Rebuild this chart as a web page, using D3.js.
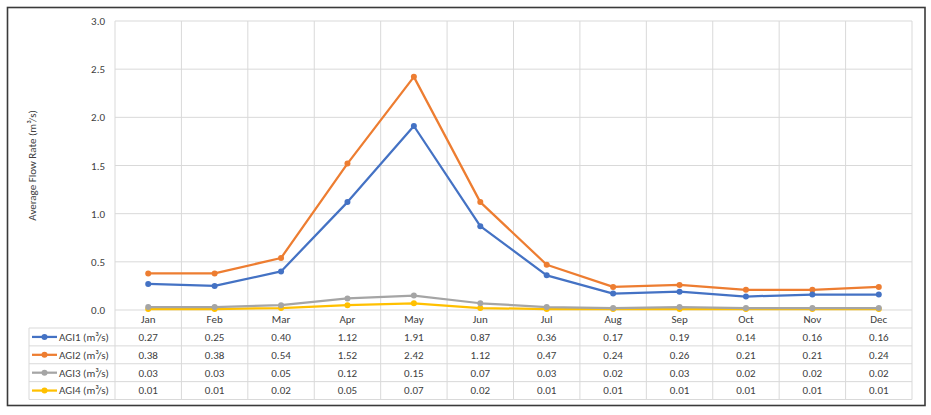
<!DOCTYPE html>
<html>
<head>
<meta charset="utf-8">
<script src="https://cdn.jsdelivr.net/npm/d3@7"></script>
<style>
	body { margin: 0; background: #fff; }
	svg text { font-family: Calibri, Carlito, Lato, sans-serif; fill: #404040; }
</style>
</head>
<body>
<main></main>
<script>
// DATA
const months = ["Jan", "Feb", "Mar", "Apr", "May", "Jun", "Jul", "Aug", "Sep", "Oct", "Nov", "Dec"];
const seriesNames = ["AGI1 (m³/s)", "AGI2 (m³/s)", "AGI3 (m³/s)", "AGI4 (m³/s)"];
const agi1 = [0.27, 0.25, 0.40, 1.12, 1.91, 0.87, 0.36, 0.17, 0.19, 0.14, 0.16, 0.16];
const agi2 = [0.38, 0.38, 0.54, 1.52, 2.42, 1.12, 0.47, 0.24, 0.26, 0.21, 0.21, 0.24];
const agi3 = [0.03, 0.03, 0.05, 0.12, 0.15, 0.07, 0.03, 0.02, 0.03, 0.02, 0.02, 0.02];
const agi4 = [0.01, 0.01, 0.02, 0.05, 0.07, 0.02, 0.01, 0.01, 0.01, 0.01, 0.01, 0.01];
const yTicks = [0, 0.5, 1.0, 1.5, 2.0, 2.5, 3.0];
const colors = ["#4472C4", "#ED7D31", "#A5A5A5", "#FFC000"];

const series = seriesNames.map((name, i) => ({ name: name, values: [agi1, agi2, agi3, agi4][i], color: colors[i] }));

// dimension
const w = 931, h = 415;
const plotLeft = 115, plotRight = 912, plotTop = 21, plotBottom = 310;
const tableTop = 328, tableBottom = 399.5, tableLeft = 29;
const gridColor = "#d9d9d9";

// scales
const xScale = d3.scaleBand().domain(months).range([plotLeft, plotRight]);
const yScale = d3.scaleLinear().domain([0, 3]).range([plotBottom, plotTop]);
const rowScale = d3.scaleBand().domain(seriesNames).range([tableTop, tableBottom]);

const svg = d3.select("main").append("svg").attr("width", w).attr("height", h);

// outer border
svg.append("rect")
	.attr("x", 7.5).attr("y", 7.5).attr("width", 917.5).attr("height", 398)
	.attr("fill", "#fff").attr("stroke", "#3a3a3a").attr("stroke-width", 1.6);

// horizontal gridlines
svg.append("g").selectAll("line").data(yTicks).enter().append("line")
	.attr("x1", plotLeft).attr("x2", plotRight)
	.attr("y1", d => yScale(d)).attr("y2", d => yScale(d))
	.attr("stroke", gridColor).attr("stroke-width", 1);

// vertical gridlines through plot and table
const boundaries = months.map(m => xScale(m)).concat([plotRight]);
svg.append("g").selectAll("line").data(boundaries).enter().append("line")
	.attr("x1", d => d).attr("x2", d => d)
	.attr("y1", plotTop).attr("y2", tableBottom)
	.attr("stroke", gridColor).attr("stroke-width", 1);

// table row lines
const rowLines = seriesNames.map(n => rowScale(n)).concat([tableBottom]);
svg.append("g").selectAll("line").data(rowLines).enter().append("line")
	.attr("x1", tableLeft).attr("x2", plotRight)
	.attr("y1", d => d).attr("y2", d => d)
	.attr("stroke", gridColor).attr("stroke-width", 1);
svg.append("line")
	.attr("x1", tableLeft).attr("x2", tableLeft)
	.attr("y1", tableTop).attr("y2", tableBottom)
	.attr("stroke", gridColor);

// y axis
const yAxis = d3.axisLeft(yScale).tickValues(yTicks).tickSize(0).tickPadding(10).tickFormat(d3.format(".1f"));
const yG = svg.append("g").attr("transform", "translate(" + plotLeft + ",0)").call(yAxis);
yG.select(".domain").remove();
yG.selectAll("text").style("font-size", "11px").attr("fill", "#404040");

// x axis (month labels)
const xAxis = d3.axisBottom(xScale).tickSize(0).tickPadding(5);
const xG = svg.append("g").attr("transform", "translate(0," + plotBottom + ")").call(xAxis);
xG.select(".domain").remove();
xG.selectAll("text").style("font-size", "11px").attr("fill", "#404040");

// y label
svg.append("text")
	.attr("transform", "translate(36," + ((plotTop + plotBottom) / 2) + ") rotate(-90)")
	.attr("text-anchor", "middle")
	.style("font-size", "11px")
	.text("Average Flow Rate (m³/s)");

// lines and markers
const line = d3.line()
	.x((d, i) => xScale(months[i]) + xScale.bandwidth() / 2)
	.y(d => yScale(d));

const sG = svg.append("g").selectAll("g").data(series.slice().reverse()).enter().append("g");
sG.append("path")
	.attr("d", d => line(d.values))
	.attr("fill", "none").attr("stroke", d => d.color).attr("stroke-width", 2.25)
	.attr("stroke-linejoin", "round");
sG.selectAll("circle").data(d => d.values.map(v => ({ v: v, c: d.color }))).enter().append("circle")
	.attr("cx", (d, i) => xScale(months[i]) + xScale.bandwidth() / 2)
	.attr("cy", d => yScale(d.v))
	.attr("r", 3)
	.attr("fill", d => d.c);

// table rows
const rows = svg.append("g").selectAll("g").data(series).enter().append("g")
	.attr("transform", d => "translate(0," + (rowScale(d.name) + rowScale.bandwidth() / 2) + ")");
// legend keys
rows.append("line")
	.attr("x1", 32).attr("x2", 57).attr("y1", 0).attr("y2", 0)
	.attr("stroke", d => d.color).attr("stroke-width", 2.25);
rows.append("circle")
	.attr("cx", 44.5).attr("cy", 0).attr("r", 3)
	.attr("fill", d => d.color);
rows.append("text")
	.attr("x", 59).attr("dy", "0.35em")
	.style("font-size", "11px")
	.text(d => d.name);
// values
rows.selectAll("text.val").data(d => d.values).enter().append("text")
	.attr("class", "val")
	.attr("x", (d, i) => xScale(months[i]) + xScale.bandwidth() / 2)
	.attr("dy", "0.35em")
	.attr("text-anchor", "middle")
	.style("font-size", "11px")
	.text(d => d3.format(".2f")(d));
</script>
</body>
</html>
